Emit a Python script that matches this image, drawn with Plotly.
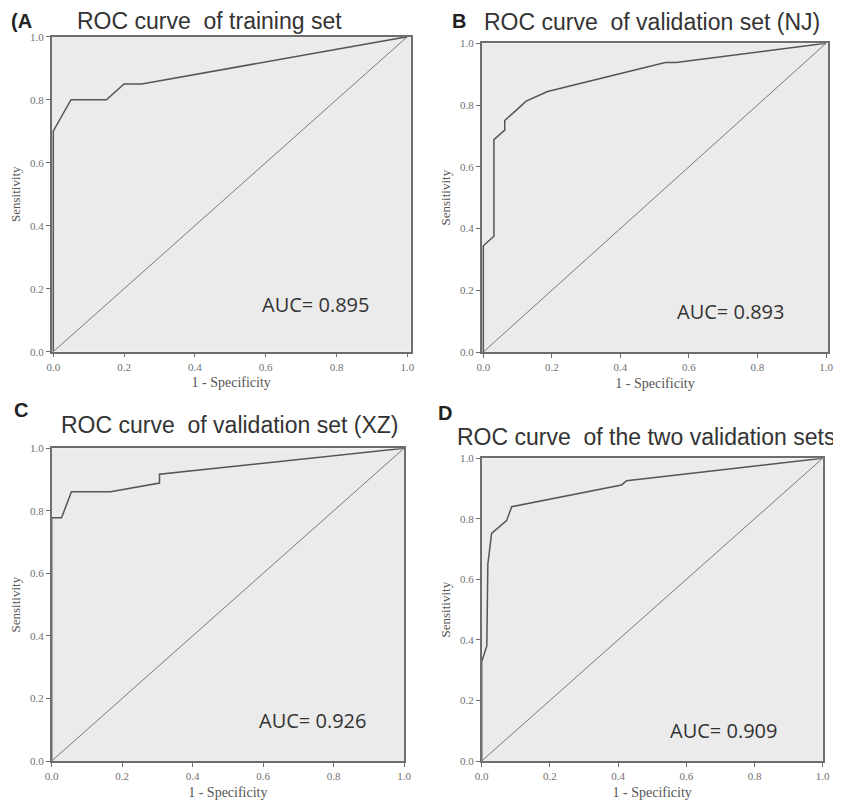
import plotly.graph_objects as go

# ---- data ----
fpr_a = [0, 0, 0.05, 0.15, 0.20, 0.25, 1.0]
tpr_a = [0, 0.70, 0.80, 0.80, 0.85, 0.85, 1.0]

fpr_b = [0, 0, 0.031, 0.031, 0.0625, 0.0625, 0.094, 0.125, 0.1875, 0.531, 0.5625, 1.0]
tpr_b = [0, 0.344, 0.375, 0.688, 0.719, 0.75, 0.781, 0.8125, 0.844, 0.9375, 0.9375, 1.0]

fpr_c = [0, 0, 0.028, 0.056, 0.167, 0.306, 0.306, 1.0]
tpr_c = [0, 0.778, 0.778, 0.861, 0.861, 0.889, 0.917, 1.0]

fpr_d = [0, 0, 0.015, 0.018, 0.029, 0.073, 0.088, 0.41, 0.425, 1.0]
tpr_d = [0, 0.328, 0.38, 0.65, 0.752, 0.794, 0.840, 0.912, 0.926, 1.0]

ref_line = [0, 1]
tick_vals = [0, 0.2, 0.4, 0.6, 0.8, 1.0]
tick_text = ["0.0", "0.2", "0.4", "0.6", "0.8", "1.0"]

panel_letters = ["(A", "B", "C", "D"]
titles = [
    "ROC curve\u00a0 of training set",
    "ROC curve\u00a0 of validation set (NJ)",
    "ROC curve\u00a0 of validation set (XZ)",
    "ROC curve\u00a0 of the two validation sets",
]
auc_labels = ["AUC= 0.895", "AUC= 0.893", "AUC= 0.926", "AUC= 0.909"]

# the page body adds an 8px offset; the figure fills the visible window
OFF = 8
W, H = 841 - OFF, 800 - OFF


def px(sx):
    return (sx - OFF) / W


def py(sy):
    return 1 - (sy - OFF) / H


# panel frames in screen pixels: (left, right, top, bottom), x range
panels = [
    (51.7, 410.7, 36.7, 351.7, [-0.0045, 1.0096]),
    (481.7, 828.3, 43.3, 352.0, [-0.0047, 1.0067]),
    (51.7, 404.0, 448.3, 761.0, [0, 1.0]),
    (481.7, 822.7, 458.3, 761.0, [0, 1.0]),
]
curves = [(fpr_a, tpr_a), (fpr_b, tpr_b), (fpr_c, tpr_c), (fpr_d, tpr_d)]
auc_pos = [(0.742, 0.149), (0.72, 0.13), (0.74, 0.131), (0.708, 0.102)]
letter_pos = [(8.5, 21), (450, 21), (12, 410), (436, 413)]
letter_size = [20, 20, 20, 20]
title_pos = [(209, 21), (652, 22), (229, 425), (646, 437)]

fig = go.Figure()
serif = "Liberation Serif"
sans = "Liberation Sans"

for i, ((l, r, t, b, xr), (fx, ty)) in enumerate(zip(panels, curves)):
    xa = "x" if i == 0 else f"x{i+1}"
    ya = "y" if i == 0 else f"y{i+1}"
    xkey = "xaxis" if i == 0 else f"xaxis{i+1}"
    ykey = "yaxis" if i == 0 else f"yaxis{i+1}"
    fig.add_trace(go.Scatter(x=ref_line, y=ref_line, mode="lines",
                             line=dict(color="#7a7a7a", width=1),
                             xaxis=xa, yaxis=ya, showlegend=False, hoverinfo="skip"))
    fig.add_trace(go.Scatter(x=fx, y=ty, mode="lines",
                             line=dict(color="#555555", width=1.5),
                             xaxis=xa, yaxis=ya, showlegend=False))
    axis_common = dict(showgrid=False, zeroline=False, showline=True, mirror=True,
                       linecolor="#6e6e6e", linewidth=1.5, ticks="outside", ticklen=4,
                       tickcolor="#6e6e6e", tickvals=tick_vals, ticktext=tick_text,
                       tickfont=dict(family=serif, size=11, color="#707070"),
                       fixedrange=True, automargin=False)
    fig.layout[xkey] = dict(axis_common, domain=[px(l), px(r)], range=xr,
                            anchor=ya,
                            title=dict(text="1 - Specificity", standoff=6,
                                       font=dict(family=serif, size=14, color="#555555")))
    fig.layout[ykey] = dict(axis_common, domain=[py(b), py(t)], range=[0, 1.0],
                            anchor=xa,
                            title=dict(text="Sensitivity", standoff=6,
                                       font=dict(family=serif, size=13, color="#555555")))
    # AUC label
    ax_, ay_ = auc_pos[i]
    fig.add_annotation(x=ax_, y=ay_, xref=xa, yref=ya, text=auc_labels[i],
                       showarrow=False, font=dict(family="Open Sans", size=20, color="#333333"))
    # panel letter
    lx, lyy = letter_pos[i]
    fig.add_annotation(x=px(lx), y=py(lyy), xref="paper", yref="paper",
                       text=f"<b>{panel_letters[i]}</b>", showarrow=False,
                       xanchor="left", yanchor="middle",
                       font=dict(family=sans, size=letter_size[i], color="#222222"))
    # title
    tx, tyy = title_pos[i]
    fig.add_annotation(x=px(tx), y=py(tyy), xref="paper", yref="paper",
                       text=titles[i], showarrow=False,
                       xanchor="center", yanchor="middle",
                       font=dict(family=sans, size=23, color="#333333"))

fig.update_layout(
    width=W, height=H,
    margin=dict(l=0, r=0, t=0, b=0),
    paper_bgcolor="white",
    plot_bgcolor="#ebebeb",
    showlegend=False,
)

fig.write_html("out.html")
